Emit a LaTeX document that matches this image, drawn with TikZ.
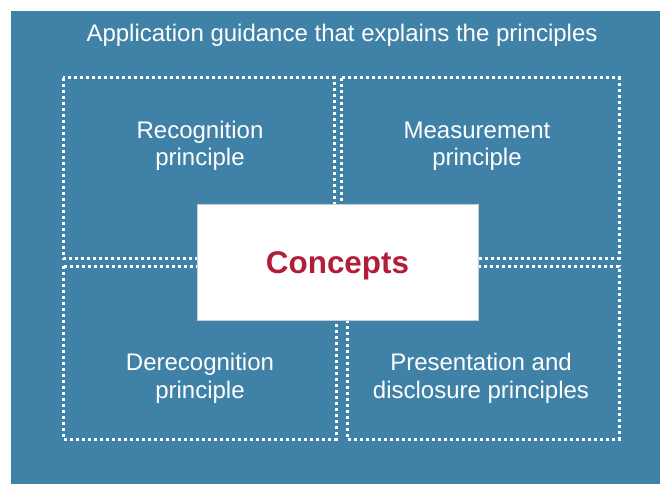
\documentclass[tikz,border=0pt]{standalone}
\usepackage{fontspec}
\setmainfont{Liberation Sans}
\definecolor{bgblue}{RGB}{64,130,167}
\definecolor{conred}{RGB}{178,30,58}
\definecolor{edgegray}{RGB}{196,206,216}
\begin{document}
\begin{tikzpicture}[x=1pt,y=-1pt,
  dotbox/.style={draw=white,line width=3pt,dash pattern=on 3pt off 3pt},
  lbl/.style={text=white,align=center,inner sep=0pt,anchor=base,
    font=\fontsize{24}{27.5}\selectfont},
  conbox/.style={fill=white,draw=edgegray,line width=0.6pt}]
\useasboundingbox (0,0) rectangle (660,484);
\fill[bgblue] (11,11) rectangle (660,484);
\node[lbl] (title) at (342,41.7) {Application guidance that explains the principles};
\draw[dotbox] (63,78) rectangle (334,258);
\draw[dotbox] (341,78) rectangle (619,258);
\draw[dotbox] (63,266) rectangle (336,439);
\draw[dotbox] (347,266) rectangle (619,439);
\node[lbl] (rec) at (200,165.5) {Recognition\\principle};
\node[lbl] (mea) at (477,165.5) {Measurement\\principle};
\node[lbl] (der) at (200,398) {Derecognition\\principle};
\node[lbl] (pre) at (481,398) {Presentation and\\disclosure principles};
\draw[conbox] (197,204) rectangle (478,320);
\node[text=conred,inner sep=0pt,anchor=base,font=\fontsize{31.4}{36}\selectfont\bfseries] (con) at (337.5,273.3) {Concepts};
\end{tikzpicture}
\end{document}
